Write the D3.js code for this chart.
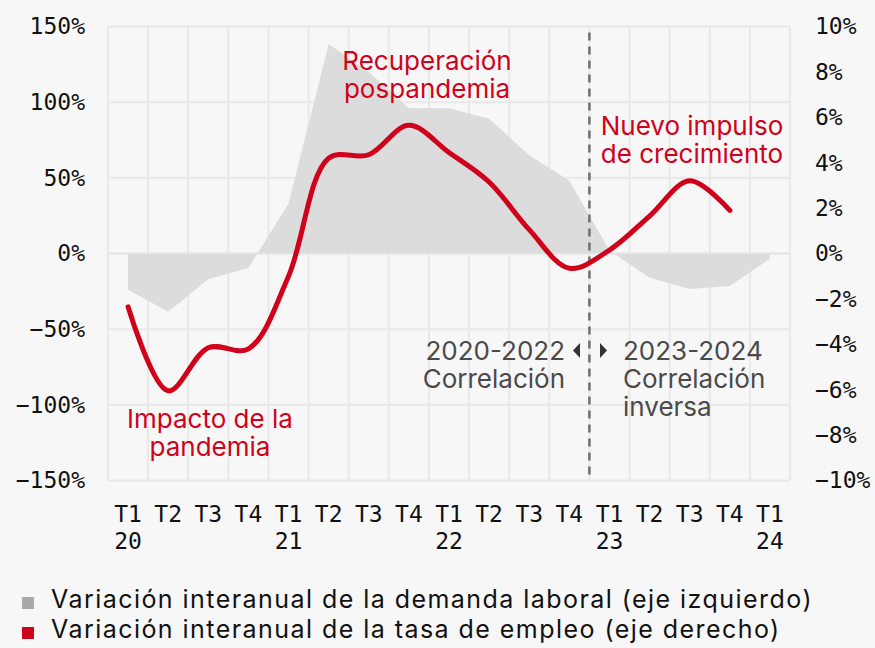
<!DOCTYPE html>
<html>
<head>
<meta charset="utf-8">
<script src="https://cdn.jsdelivr.net/npm/d3@7"></script>
<style>
  html, body { margin: 0; padding: 0; background: #f7f7f7; }
  svg { display: block; }
  .tick text { font-family: "DejaVu Sans Mono", monospace; fill: #111; }
</style>
</head>
<body>
<div id="chart"></div>
<script>
// quarters on the x axis
var quarters = ["T1","T2","T3","T4","T1","T2","T3","T4","T1","T2","T3","T4","T1","T2","T3","T4","T1"];
var years = ["20","","","","21","","","","22","","","","23","","","","24"];

// demand (left axis, %) - one value per quarter
var demanda = [-24, -38.5, -17, -9.5, 33, 138.5, 120, 96, 96, 89, 65, 48, 2, -16, -23.5, -21.5, -3.5];
// employment rate (right axis, %) - T1 20 to T4 23
var empleo = [-2.35, -6.05, -4.15, -4.2, -1.0, 4.2, 4.35, 5.65, 4.45, 3.15, 1.05, -0.65, 0.15, 1.65, 3.2, 1.9];

var leftTicks = [-150, -100, -50, 0, 50, 100, 150];
var rightTicks = [-10, -8, -6, -4, -2, 0, 2, 4, 6, 8, 10];

var legendItems = [
  { label: "Variación interanual de la demanda laboral (eje izquierdo)", color: "#a9a9a9" },
  { label: "Variación interanual de la tasa de empleo (eje derecho)", color: "#d0021b" }
];

var svgWidth = 875, svgHeight = 648;
var margin = { top: 26.5, left: 108, right: 85, bottom: 167.5 };
var chartWidth = svgWidth - margin.left - margin.right;
var chartHeight = svgHeight - margin.top - margin.bottom;

var red = "#d0021b";

var svg = d3.select("#chart").append("svg")
  .attr("width", svgWidth)
  .attr("height", svgHeight);

svg.append("rect").attr("width", svgWidth).attr("height", svgHeight).attr("fill", "#f7f7f7");

var g = svg.append("g").attr("transform", `translate(${margin.left},${margin.top})`);

// scales
var idx = d3.range(quarters.length);
var x = d3.scaleBand().domain(idx).range([0, chartWidth]).padding(0);
var cx = i => x(i) + x.bandwidth() / 2;
var yLeft = d3.scaleLinear().domain([-150, 150]).range([chartHeight, 0]);
var yRight = d3.scaleLinear().domain([-10, 10]).range([chartHeight, 0]);

// grid
var gridColor = "#e8e8e8";
g.append("g").selectAll("line.v")
  .data(idx.concat([quarters.length]))
  .enter().append("line")
  .attr("x1", i => i < quarters.length ? x(i) : chartWidth)
  .attr("x2", i => i < quarters.length ? x(i) : chartWidth)
  .attr("y1", 0).attr("y2", chartHeight)
  .attr("stroke", gridColor).attr("stroke-width", 2);

g.append("g").selectAll("line.h")
  .data(leftTicks)
  .enter().append("line")
  .attr("x1", 0).attr("x2", chartWidth)
  .attr("y1", d => yLeft(d)).attr("y2", d => yLeft(d))
  .attr("stroke", gridColor).attr("stroke-width", 2);

// demand area
var area = d3.area()
  .x((d, i) => cx(i))
  .y0(yLeft(0))
  .y1(d => yLeft(d));

g.append("path")
  .datum(demanda)
  .attr("d", area)
  .attr("fill", "#dcdcdc");

// zero line faintly over area
g.append("line")
  .attr("x1", 0).attr("x2", chartWidth)
  .attr("y1", yLeft(0)).attr("y2", yLeft(0))
  .attr("stroke", "#e4e4e4").attr("stroke-width", 1.5);

// dashed divider between T4 22 and T1 23
g.append("line")
  .attr("x1", x(12)).attr("x2", x(12))
  .attr("y1", 6).attr("y2", chartHeight - 6)
  .attr("stroke", "#707070")
  .attr("stroke-width", 2.5)
  .attr("stroke-dasharray", "8,6");

// employment line
var line = d3.line()
  .x((d, i) => cx(i))
  .y(d => yRight(d))
  .curve(d3.curveCatmullRom.alpha(0.5));

g.append("path")
  .datum(empleo)
  .attr("d", line)
  .attr("fill", "none")
  .attr("stroke", red)
  .attr("stroke-width", 5)
  .attr("stroke-linecap", "round")
  .attr("stroke-linejoin", "round");

// axes
var yAxisLeft = d3.axisLeft(yLeft).tickValues(leftTicks).tickSize(0).tickPadding(23)
  .tickFormat(d => d3.format("d")(d) + "%");
var yAxisRight = d3.axisRight(yRight).tickValues(rightTicks).tickSize(0).tickPadding(25)
  .tickFormat(d => d3.format("d")(d) + "%");

g.append("g").call(yAxisLeft)
  .call(a => a.select(".domain").remove())
  .selectAll("text").attr("font-size", 23);

g.append("g").attr("transform", `translate(${chartWidth},0)`).call(yAxisRight)
  .call(a => a.select(".domain").remove())
  .selectAll("text").attr("font-size", 23);

// x axis: quarter and year on two lines
var xAxis = g.append("g").attr("transform", `translate(0,${chartHeight})`);
var xt = xAxis.selectAll("g").data(idx).enter().append("g")
  .attr("transform", i => `translate(${cx(i)},0)`);
xt.append("text")
  .attr("y", 41.5)
  .attr("text-anchor", "middle")
  .attr("font-family", "DejaVu Sans Mono, monospace")
  .attr("font-size", 23)
  .attr("fill", "#111")
  .text(i => quarters[i]);
xt.append("text")
  .attr("y", 68)
  .attr("text-anchor", "middle")
  .attr("font-family", "DejaVu Sans Mono, monospace")
  .attr("font-size", 23)
  .attr("fill", "#111")
  .text(i => years[i]);

// annotations
var sans = "Inter, Roboto, sans-serif";
function note(xp, yp, lines, anchor, color) {
  var t = svg.append("text")
    .attr("font-family", sans)
    .attr("font-size", 26)
    .attr("fill", color)
    .attr("text-anchor", anchor);
  lines.forEach((s, k) => {
    t.append("tspan").attr("x", xp).attr("y", yp + k * 28).text(s);
  });
}
note(427, 70, ["Recuperación", "pospandemia"], "middle", red);
note(692, 135, ["Nuevo impulso", "de crecimiento"], "middle", red);
note(210, 428, ["Impacto de la", "pandemia"], "middle", red);
note(565, 360, ["2020-2022", "Correlación"], "end", "#4a4a4a");
note(623, 360, ["2023-2024", "Correlación", "inversa"], "start", "#4a4a4a");

// small arrows beside the period labels
svg.append("path").attr("d", "M580,343 L573,350.5 L580,358 Z").attr("fill", "#333");
svg.append("path").attr("d", "M600,343 L607,350.5 L600,358 Z").attr("fill", "#333");

// legend
var legend = svg.append("g");
legendItems.forEach((d, k) => {
  legend.append("rect")
    .attr("x", 22).attr("y", 597 + k * 30)
    .attr("width", 12).attr("height", 12)
    .attr("fill", d.color);
  legend.append("text")
    .attr("x", 51).attr("y", 608 + k * 30)
    .attr("font-family", sans)
    .attr("font-size", 25)
    .attr("letter-spacing", 1.45)
    .attr("fill", "#111")
    .text(d.label);
});
</script>
</body>
</html>
